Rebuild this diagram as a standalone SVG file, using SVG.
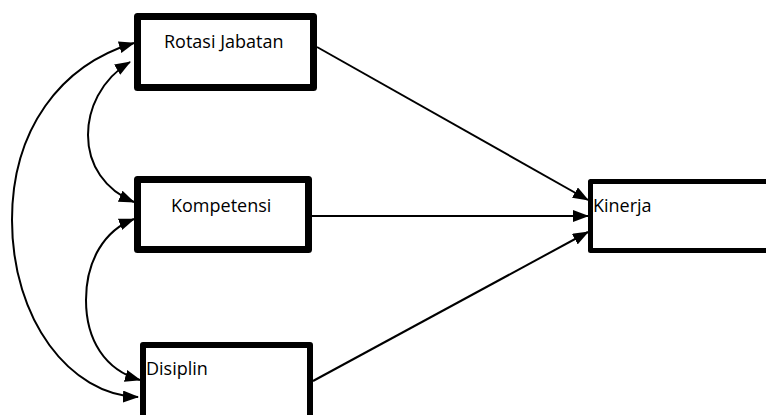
<svg xmlns="http://www.w3.org/2000/svg" width="766" height="415" viewBox="0 0 766 415">
<style>
.box{fill:#fff;stroke:#000;stroke-linejoin:round}
.lbl{font-family:"Open Sans","Liberation Sans",sans-serif;font-size:18px;fill:#000}
.con{fill:none;stroke:#000;stroke-width:2}
</style>
<defs>
<marker id="ah" markerUnits="userSpaceOnUse" markerWidth="16" markerHeight="12" refX="15" refY="6" orient="auto-start-reverse" viewBox="0 0 16 12">
<path d="M0,0 L16,6 L0,12 Z" fill="#000"/>
</marker>
</defs>
<rect width="766" height="415" fill="#fff"/>
<g id="connectors">
<line class="con" x1="317" y1="47" x2="588" y2="200" marker-end="url(#ah)"/>
<line class="con" x1="312" y1="216" x2="588" y2="216" marker-end="url(#ah)"/>
<line class="con" x1="313" y1="381" x2="588" y2="232" marker-end="url(#ah)"/>
<path class="con" d="M134,43 C60,65 12,130 12,220 C12,320 70,395 138,397" marker-start="url(#ah)" marker-end="url(#ah)"/>
<path class="con" d="M130,62 C100,80 88,110 88,135 C88,165 105,190 134,202" marker-start="url(#ah)" marker-end="url(#ah)"/>
<path class="con" d="M134,219 C105,230 86,260 86,300 C86,340 105,370 140,380" marker-start="url(#ah)" marker-end="url(#ah)"/>
</g>
<g id="rotasi">
<rect class="box" x="137.5" y="16.5" width="176" height="71" stroke-width="7"/>
<text class="lbl" x="164" y="48">Rotasi Jabatan</text>
</g>
<g id="kompetensi">
<rect class="box" x="137.5" y="179.5" width="171" height="70" stroke-width="7"/>
<text class="lbl" x="171" y="212">Kompetensi</text>
</g>
<g id="disiplin">
<rect class="box" x="143" y="345" width="167" height="90" stroke-width="6"/>
<text class="lbl" x="146" y="375">Disiplin</text>
</g>
<g id="kinerja">
<rect class="box" x="590.5" y="181.5" width="200" height="69" stroke-width="5"/>
<text class="lbl" x="593" y="212">Kinerja</text>
</g>
</svg>
